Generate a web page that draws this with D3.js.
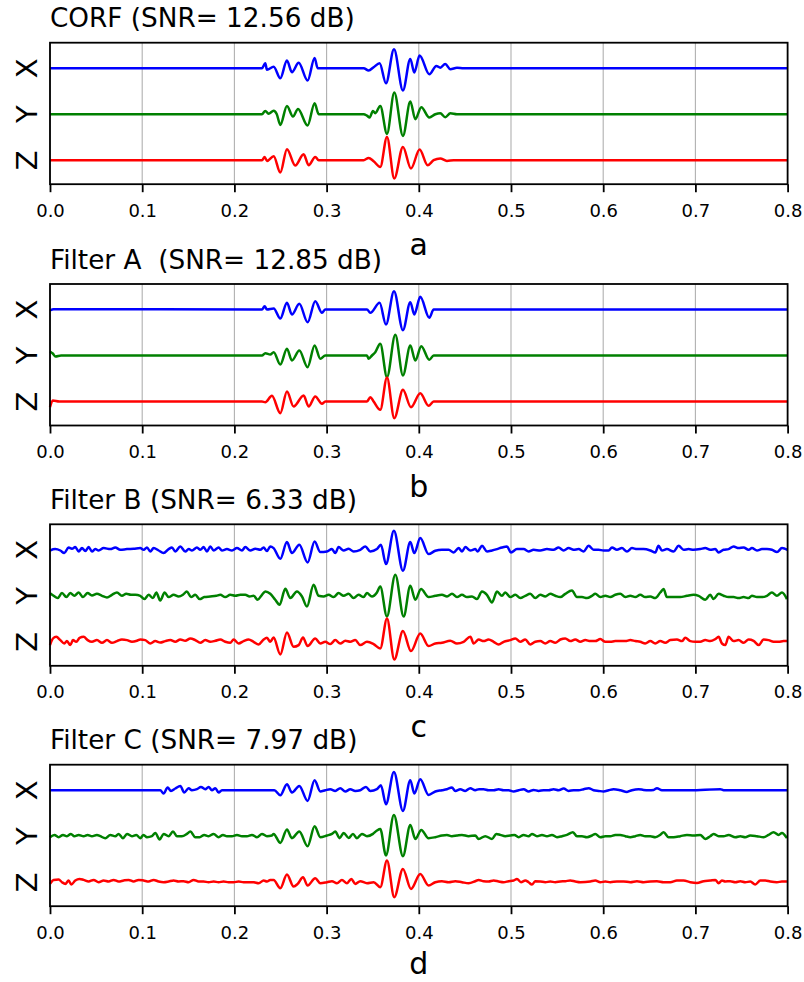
<!DOCTYPE html>
<html lang="en">
<head>
<meta charset="utf-8">
<script src="https://cdn.jsdelivr.net/npm/d3@7"></script>
<style>
  body {margin: 0; background: #fff;}
  text {font-family: "DejaVu Sans", sans-serif;}
</style>
</head>
<body>
<script>
// ---- data (time in ms, amplitude in trace units; channels are 46 units apart) ----
const panelTitles = ["CORF (SNR= 12.56 dB)", "Filter A  (SNR= 12.85 dB)", "Filter B (SNR= 6.33 dB)", "Filter C (SNR= 7.97 dB)"];
const panelLabels = ["a", "b", "c", "d"];
const channels = ["X", "Y", "Z"];
const channelOffsets = [46, 0, -46];
const channelColors = ["#0000ff", "#008000", "#ff0000"];
const xTicks = [0, 100, 200, 300, 400, 500, 600, 700, 800];
const xTickLabels = ["0.0", "0.1", "0.2", "0.3", "0.4", "0.5", "0.6", "0.7", "0.8"];

const corfX = [[0,0],[229.9,0],[233.5,5],[235.3,-1.5],[242.6,1.5],[249.8,-10],[257.0,7.7],[262.4,-4],[269.7,5.5],[279.4,-12.3],[287.0,10.3],[290.3,0],[340.2,0],[345.6,-2.3],[351.0,1],[357.5,5],[364.4,-15],[373.1,19],[382.8,-22.3],[390.8,9.3],[395.1,-4.3],[400.9,12.7],[411.4,-6],[419.0,2.3],[423.3,0.5],[428.7,4.3],[434.2,-1],[441.4,0.5],[448.6,0],[800,0]];
const corfY = [[0,0],[229.9,0],[233.5,3.3],[237.0,0.5],[242.6,3.5],[246.0,0],[249.8,-10.7],[257.0,8.3],[263.5,-2.3],[269.0,5.3],[279.4,-11.3],[287.0,11],[291.4,0],[340.2,0],[343.8,-1.5],[346.7,-3.3],[350.3,3.3],[352.8,1],[358.2,8.3],[365.5,-19.7],[373.4,21.7],[382.8,-21.7],[390.8,12.7],[396.2,-5],[402.7,7],[411.4,-3.3],[417.9,0],[423.3,1],[428.7,-3],[434.2,1],[441.4,0],[800,0]];
const corfZ = [[0,0],[229.9,0],[232.8,3.3],[235.3,-0.7],[242.6,4],[249.8,-12.3],[257.0,11],[266.0,-5.3],[275.1,6],[280.5,-5],[287.7,3.3],[291.4,0],[340.2,0],[345.6,2.3],[351.0,-1],[358.2,-6.7],[365.5,23.3],[373.4,-18.3],[382.8,13.3],[391.5,-8.3],[400.9,10.7],[409.6,-5],[416.1,0],[423.3,1.7],[430.5,-0.7],[437.8,0],[800,0]];

const filtAX = [[0,-1],[4,0.3],[229.9,0],[232.8,3.3],[235.3,0],[242.6,1],[249.8,-9],[257.0,6.7],[262.4,-5],[270.4,5.7],[279.4,-12.7],[287.7,8.3],[295.0,-3.3],[298.6,0],[343.8,0],[347.4,-3.3],[357.5,6.7],[364.4,-15],[373.1,18.3],[382.8,-20.7],[390.8,7.3],[395.1,-5],[401.6,12.7],[411.4,-8.3],[416.1,0],[800,0]];
const filtAY = [[0,4],[3,2],[6,-1],[12,0],[229.9,0],[233.5,2.3],[238.9,1],[242.6,3.3],[249.8,-9],[257.0,6.7],[262.4,-5],[270.4,5],[279.4,-11.7],[287.0,10],[293.2,-3.3],[298.6,0],[343.8,0],[345.6,-3.3],[349.2,0],[352.8,3.3],[358.2,11.7],[365.5,-21.7],[374.5,20.7],[382.8,-20],[390.8,10],[396.2,-5],[402.7,9.3],[411.4,-4.3],[416.1,0],[800,0]];
const filtAZ = [[0,-5.7],[3,1],[10,0],[229.9,0],[233.5,-0.7],[240.7,5.7],[249.8,-11.7],[257.0,10],[264.2,-5],[275.1,6],[280.5,-5],[287.7,5],[295.0,-2.3],[298.6,0],[343.8,0],[347.4,4.3],[351.0,0],[358.2,-8.3],[365.5,24],[373.4,-16.7],[382.8,11.7],[391.5,-5.7],[401.6,8.3],[410.6,-4.3],[416.1,0],[800,0]];

const filtBX = [[0,-0.7],[5.7,0.7],[11.2,-0.7],[15.5,-3.3],[20.2,2.3],[23.8,1],[27.4,2.7],[31.1,-1.7],[34.7,1.7],[38.3,-1.3],[41.9,2.7],[45.5,-1.7],[49.1,0.7],[52.7,-0.7],[58.2,1.7],[65.4,0.7],[70.8,2.3],[76.2,0],[83.5,0.7],[90.7,1],[97.9,1.7],[101.6,0],[105.2,2.3],[108.8,-1.7],[112.4,1.7],[117.8,-0.7],[123.2,-3.3],[128.7,0.7],[132.3,2.3],[135.9,-1.7],[141.3,3.3],[146.7,-1.7],[150.4,0.7],[154.0,-0.7],[159.4,2.3],[163.0,0],[166.6,2.7],[170.2,-1.7],[173.9,3.3],[177.5,-0.7],[182.9,2.3],[186.5,-0.7],[191.9,0.7],[197.4,-0.7],[202.8,1.7],[208.2,-0.7],[211.8,2.7],[217.2,-0.7],[222.7,1],[228.1,0],[231.7,2.3],[235.3,-1.3],[238.9,3.3],[242.5,1.7],[249.8,-9],[257.0,7.7],[262.4,-3.3],[270.4,5],[279.4,-12.7],[287.0,8.3],[293.2,-2.3],[300.4,-1.7],[305.8,0.7],[309.4,-3.3],[313.0,2.7],[318.5,-0.7],[323.9,1],[329.3,-1.7],[336.5,0],[342.0,3.3],[347.4,-1.7],[354.6,0.7],[358.9,5],[364.4,-14.3],[373.0,19],[382.8,-21],[390.8,7.7],[395.1,-3.3],[401.6,11.7],[410.6,-4.3],[417.9,-1],[425.1,0],[432.4,0],[437.8,-2.7],[443.2,1.7],[446.9,-1.7],[450.5,2.7],[455.9,-0.7],[461.3,0.7],[463.8,-1.7],[468.5,4],[474.0,-1.7],[479.4,-0.7],[484.8,0.7],[490.2,2.3],[495.6,3.3],[500.0,-2.7],[506.5,0.7],[513.7,0.7],[519.1,-1.7],[524.5,0],[531.8,-0.7],[539.0,0.7],[546.2,0],[551.6,2.3],[557.1,-0.7],[562.5,1.7],[567.9,0],[573.3,0.7],[578.7,-1.7],[584.2,4],[589.6,0],[595.0,0],[600.4,-0.7],[605.9,-0.7],[609.5,2.3],[614.9,0],[620.3,1.7],[625.8,-1.7],[631.2,1.7],[636.6,0.7],[643.8,0.7],[651.1,-0.7],[656.5,-2.7],[660.0,4],[663.7,-0.7],[669.1,0.7],[676.4,-1.7],[681.8,4],[687.2,0],[692.6,0.7],[698.0,0],[705.3,0.7],[710.7,1.7],[716.1,0],[721.5,0.7],[725.2,-2.7],[730.6,0],[736.0,0.7],[741.4,3.3],[746.9,1.7],[752.3,2.3],[757.7,0],[761.3,1.7],[766.8,-0.7],[772.2,0.7],[777.6,0.7],[783.0,0],[788.5,-2.3],[793.9,1.7],[800,0]];
const filtBY = [[0,2.7],[3.9,0],[8.3,-2.3],[13.0,2.7],[17.7,-1.3],[22.0,2.7],[26.4,0],[31.1,3.3],[35.8,-1.3],[40.8,2.7],[45.5,0.3],[50.9,2],[56.4,0],[61.8,-1.7],[67.2,1],[72.6,3.3],[78.0,0],[82.7,2],[87.8,1],[92.5,1],[97.9,0],[102.3,-3.3],[107.0,1],[111.7,-2.3],[115.3,3.3],[119.6,-4.7],[124.3,3.3],[128.7,-1.3],[134.1,1],[139.5,-0.7],[144.2,1],[148.5,4.3],[152.9,-1.3],[157.6,1],[162.3,-3.3],[167.3,-1.3],[173.8,-0.7],[180.4,0],[184.7,1],[190.1,-1.3],[195.5,1],[201.0,0],[206.4,1],[211.8,1],[216.5,-0.7],[220.8,0],[225.2,-4],[229.9,1],[233.5,4.3],[238.9,2],[244.3,-4],[249.0,-9],[255.2,7],[260.6,-2.3],[267.8,4.3],[273.3,-0.7],[278.7,-10.7],[285.9,11],[291.3,0],[296.8,-0.7],[302.2,1],[307.6,-1.3],[313.0,2.7],[318.5,0],[323.9,2],[329.3,-2.3],[334.7,1],[340.1,-1.3],[343.7,2.7],[349.2,-0.7],[354.6,3.3],[358.2,9.3],[365.4,-20.7],[374.5,21],[383.6,-20.7],[390.8,10],[396.2,-4],[402.4,6.7],[410.7,-1.3],[417.9,0],[425.1,1],[430.6,-0.7],[436.0,2],[441.4,-1.3],[446.8,1],[452.2,-1.3],[457.7,-0.7],[463.1,-3.3],[468.5,4.3],[473.9,1],[479.4,-6.7],[484.8,4.3],[490.2,0],[493.8,3.3],[499.2,-1.3],[504.7,1],[510.1,-2.3],[515.5,0],[520.9,2],[526.4,-2.3],[531.8,1],[537.2,-0.7],[542.6,2],[548.0,0],[553.5,-1.3],[558.9,2],[566.1,5.3],[571.5,-1.3],[577.0,-1.3],[582.4,-2.3],[587.8,0],[591.4,2],[596.9,-1.3],[602.3,0],[607.7,-1.3],[613.1,1],[618.5,2],[624.0,-1.3],[629.4,0],[634.8,-1.3],[640.2,1],[645.6,-1.3],[651.1,-0.7],[656.5,-2.3],[661.9,3.3],[665.5,6.7],[669.1,-1.3],[676.4,-1.3],[683.6,-1.3],[690.8,0],[698.1,1],[703.5,0],[710.7,-4],[716.1,1],[719.7,-3.3],[725.2,2],[730.6,0],[736.0,-1.3],[741.4,-1.3],[746.9,-2.3],[752.3,-1.3],[757.7,-2.3],[761.3,0],[766.7,-1.3],[772.2,-1.3],[777.6,0],[783.0,3.3],[788.4,0],[793.9,3.3],[799.3,-3.3]];
const filtBZ = [[0,-3.3],[3.2,3.3],[6.8,5],[11.2,1.7],[15.5,-1.7],[18.4,0.7],[22.0,-3.3],[24.9,1.7],[28.5,0],[32.1,4],[36.5,5],[40.8,1.7],[45.5,0],[50.9,1.7],[56.4,-1],[61.8,1.7],[67.2,-1],[72.6,0.7],[78.0,2.3],[83.5,1.7],[88.9,0],[94.3,1],[97.9,2.3],[103.4,1.7],[108.8,-1.7],[114.2,0.7],[119.6,-0.7],[125.0,0.7],[130.5,1.7],[135.9,0],[141.3,2.3],[146.7,1],[152.2,3.3],[157.6,1.7],[163.0,-1],[168.4,1.7],[173.8,0],[179.3,1],[184.7,2.3],[190.1,0],[195.5,-1],[199.2,2.3],[204.6,-1.7],[210.0,0.7],[215.4,2.3],[220.8,0],[226.3,-2.7],[231.7,2.3],[235.3,4],[238.9,0],[242.5,4.3],[249.8,-12.7],[257.0,9.3],[264.2,-5],[269.7,-3.3],[274.4,4.3],[279.4,-4.3],[287.7,3.3],[293.2,-1.7],[298.6,0],[304.0,-2.3],[309.4,1.7],[314.8,-1.7],[320.3,1],[325.7,0],[331.1,1.7],[336.5,-3.3],[343.8,0],[351.0,-2.3],[358.2,-6.7],[365.5,23.3],[373.4,-17.7],[382.8,10.7],[391.5,-9.3],[401.6,8.3],[410.6,-4.3],[417.9,-1.7],[425.1,-1],[434.1,1],[441.4,-1.7],[448.6,0],[455.9,5],[459.5,-1.7],[464.9,2.3],[470.3,0.7],[475.7,2.3],[481.2,0],[486.6,-2.7],[492.0,0],[499.2,1.7],[504.7,3.3],[510.1,0],[515.5,2.3],[520.9,-2.7],[526.4,0],[531.8,0.7],[537.2,-1.7],[542.6,0.7],[548.0,-1],[553.5,2.3],[558.9,3.3],[564.3,0.7],[569.7,2.3],[575.2,0],[580.6,1.7],[586.0,0.7],[591.4,0.7],[596.9,2.7],[602.3,0],[607.7,0],[613.1,0.7],[618.5,0.7],[624.0,0.7],[629.4,1.7],[634.8,0.7],[640.2,0],[645.6,-1.7],[651.1,0.7],[656.5,-1.7],[661.9,0.7],[667.3,-1],[672.8,1.7],[680.0,2.3],[685.4,0.7],[689.0,4],[694.5,0.7],[699.9,0],[705.3,0],[710.7,1.7],[716.1,0.7],[721.6,2.7],[725.2,5],[728.8,-1.7],[732.4,-3.3],[736.0,5],[741.4,0.7],[746.9,1.7],[752.3,-1],[757.7,2.3],[763.1,1],[768.6,-3.3],[774.0,2.3],[779.4,1.7],[784.8,0],[790.2,0],[795.7,0.7],[799.3,0.7]];

const filtCX = [[0,0],[119.6,0],[123.2,-3.3],[127.6,2.7],[131.2,-0.7],[135.9,1.7],[141.3,4.3],[145.6,-2.3],[150.3,2],[153.9,0],[159.4,1],[163.7,3.3],[168.4,1],[172.0,3.3],[175.6,0],[179.3,2],[182.9,-2.3],[186.5,0],[243.3,0],[249.8,-5],[257.0,6],[262.4,-2.3],[270.4,4.3],[279.4,-10.7],[287.0,10],[293.2,-1.3],[298.6,0],[304.0,1],[309.4,-0.7],[314.8,2],[320.3,-1.3],[325.7,1],[331.1,-0.7],[336.5,0],[342.7,3.3],[347.4,-0.7],[354.6,1],[358.9,5],[364.4,-14],[373.0,18.3],[382.8,-20.7],[390.8,10],[395.1,-3.3],[401.6,11],[410.6,-4.7],[417.9,-1.3],[425.1,0],[430.5,1],[435.9,2.7],[439.6,-0.7],[445.0,1],[450.4,-0.7],[455.8,2],[461.2,0],[465.3,1],[470.3,1],[475.7,0],[481.2,0],[486.6,1],[492.0,0],[497.4,0],[502.9,-1.3],[508.3,0],[513.7,1],[519.1,-1.3],[524.5,0.3],[530.0,-0.7],[535.4,0],[540.8,0],[546.2,1],[551.7,0],[557.1,1.7],[562.5,-0.7],[567.9,0],[573.3,0],[578.8,1],[584.2,2],[589.6,0],[595.0,-0.7],[600.5,-1.3],[605.9,0],[611.3,1],[618.5,0],[625.8,-1.7],[631.2,0],[638.4,1],[643.8,0.3],[649.3,0],[654.7,0.3],[658.3,2],[663.7,0],[694.4,0],[727.0,1],[730.6,0],[800,0]];
const filtCY = [[0,-1],[4.7,1.3],[9.4,-1],[14.1,1.3],[18.4,0],[22.7,2.3],[26.4,0],[31.1,1.3],[36.5,0],[40.8,1.3],[45.5,0],[50.9,1.3],[54.5,0],[60.0,-2],[65.4,1.3],[70.8,0],[74.4,2.3],[79.1,-2],[83.5,2.3],[88.9,0],[93.6,1.3],[97.9,-2],[101.5,1.3],[105.2,-1],[110.6,0],[114.2,3.3],[118.9,-3.3],[123.2,2.3],[128.7,0],[133.4,4.7],[137.7,0],[143.1,0],[148.5,2.3],[152.2,4.7],[157.6,-1],[162.3,-1],[167.3,1.3],[172.0,0],[177.5,2.3],[182.9,-1],[187.6,1.3],[191.9,0],[197.3,0],[202.8,1.3],[208.2,0],[213.6,0],[219.0,1.3],[224.5,-1],[229.9,2.3],[235.3,0],[240.7,0.7],[242.5,2.3],[249.8,-6.7],[257.0,6.7],[262.4,-2],[270.4,4.7],[279.4,-10],[287.0,10],[293.2,-1],[300.4,0.7],[305.8,2.3],[309.4,4.7],[314.1,-2],[318.5,3.3],[323.9,-1.7],[328.6,2.3],[332.9,-2],[338.3,2.3],[343.8,0],[350.3,2.3],[354.6,5.7],[358.2,7.3],[364.4,-19.3],[373.0,21.3],[382.8,-20],[390.8,11.3],[396.2,-2.7],[402.7,6.3],[410.6,-2],[417.9,-1],[425.1,0.7],[430.5,1.3],[435.9,0],[441.4,0.7],[446.8,1.3],[454.0,0],[461.2,0.7],[464.9,-2.7],[472.1,0],[479.4,-2.7],[484.1,2.3],[488.4,1.3],[493.8,0],[499.2,0.7],[503.6,1.3],[508.3,-1],[513.7,1.3],[519.1,0],[522.7,2.3],[528.2,0],[533.6,1.3],[539.0,0],[544.4,1.3],[549.9,-1],[555.3,0],[560.7,1.3],[567.2,4],[571.5,0],[577.0,0],[582.4,-1],[587.8,0.7],[591.4,2.3],[596.9,-1],[602.3,0],[607.7,0],[613.1,1.3],[618.5,1.3],[624.0,0],[629.4,-1],[634.8,0],[640.2,1.3],[645.6,0],[651.1,0],[656.5,-1],[661.9,1.3],[665.5,4],[670.9,-1],[676.4,-1],[683.6,0],[690.8,1.3],[698.1,0.7],[705.3,1.3],[710.7,-2.7],[716.1,0],[719.7,2.3],[725.2,0],[730.6,0],[736.0,1.3],[743.3,-1],[748.7,0],[754.1,-1],[759.5,0.7],[766.7,0],[774.0,-1],[779.4,1.3],[784.8,4],[790.2,1.3],[793.9,3.3],[799.3,-2]];
const filtCZ = [[0,-1.7],[3.9,2.3],[9.4,2.7],[13.0,0],[16.6,-1.7],[20.2,1.7],[23.1,-2.3],[27.4,1.7],[32.1,3.3],[36.5,2.3],[41.9,0.7],[47.3,2.3],[52.7,0],[58.2,1.7],[63.6,0.7],[69.0,2.3],[74.4,0.7],[79.9,1.7],[85.3,2.3],[90.7,0.7],[96.1,2.3],[101.5,1.7],[107.0,0.7],[112.4,2.3],[117.8,0.7],[123.2,0],[128.7,0.7],[134.1,1.7],[139.5,0.7],[144.9,1],[150.3,0],[155.8,2.3],[161.2,0.7],[166.6,0.7],[172.0,0],[177.5,0.7],[182.9,0],[188.3,0.7],[193.7,0],[199.2,0],[204.6,0.7],[210.0,0],[220.8,0],[226.3,-1],[231.7,1.7],[235.3,0.7],[238.9,2.3],[242.5,2.3],[249.8,-6],[257.0,7.7],[264.2,-4.3],[268.6,-1.7],[274.4,5],[279.4,-3.3],[287.7,4],[293.2,-1],[300.4,0],[305.8,1],[311.2,-1],[316.6,2.3],[322.1,-1],[326.8,3.3],[331.1,-1.7],[336.5,1],[343.8,-1],[351.0,0],[358.2,-5],[365.5,21.7],[373.4,-15],[382.8,13.3],[391.5,-6.7],[401.6,8.3],[410.6,-3.3],[417.9,0],[425.1,1],[432.3,0],[439.6,1],[446.8,0],[454.0,-1],[461.2,1],[464.9,2.3],[470.3,1],[475.7,0.7],[481.2,1.7],[486.6,0.7],[492.0,0],[497.4,1],[502.9,1.7],[506.5,3.3],[510.8,0],[515.5,1.7],[519.1,0],[522.7,-2.3],[526.4,1],[531.8,0.7],[537.2,0],[542.6,0.7],[548.0,0],[553.5,0.7],[558.9,1],[564.3,1.7],[569.7,0.7],[575.2,0],[586.0,0.7],[591.4,1.7],[596.9,0],[602.3,0.7],[607.7,0],[614.9,0.7],[622.2,0.7],[629.4,0],[636.6,1],[643.9,0],[651.1,0.7],[658.3,1],[665.5,0],[672.8,0],[680.0,1.7],[687.2,1.7],[694.5,0],[701.7,-0.7],[708.9,1],[716.1,1.7],[721.6,2.3],[725.2,-1],[728.8,1.7],[732.4,0.7],[737.8,1],[743.3,0],[748.7,1],[754.1,0],[759.5,0.7],[764.9,-2.3],[770.4,1.7],[775.8,1.7],[781.2,0.7],[788.4,0],[793.9,0.7],[799.3,0.7]];

const panelTraces = [
  [corfX, corfY, corfZ],
  [filtAX, filtAY, filtAZ],
  [filtBX, filtBY, filtBZ],
  [filtCX, filtCY, filtCZ]
];

// ---- layout ----
const W = 804, H = 982;
const left = 50, right = 787.6;
const panelTops = [42.7, 284, 524.3, 764.7];
const panelH = 141.5;

const svg = d3.select("body").append("svg")
  .attr("width", W).attr("height", H);

const x = d3.scaleLinear().domain([0, 800]).range([left, right]);

panelTraces.forEach((traces, p) => {
  const top = panelTops[p];
  const y = d3.scaleLinear().domain([-70, 71.5]).range([top + panelH, top]);
  const g = svg.append("g");

  // vertical grid
  g.selectAll(".grid").data(xTicks).join("line")
    .attr("x1", d => x(d)).attr("x2", d => x(d))
    .attr("y1", top).attr("y2", top + panelH)
    .attr("stroke", "#b0b0b0").attr("stroke-width", 1.1);

  // traces
  const line = d3.line()
    .x(d => x(d[0]))
    .curve(d3.curveMonotoneX);
  traces.forEach((tr, c) => {
    line.y(d => y(d[1] + channelOffsets[c]));
    g.append("path")
      .attr("d", line(tr))
      .attr("fill", "none")
      .attr("stroke", channelColors[c])
      .attr("stroke-width", 2.5)
      .attr("stroke-linejoin", "round");
  });

  // frame
  g.append("rect")
    .attr("x", left).attr("y", top)
    .attr("width", right - left).attr("height", panelH)
    .attr("fill", "none").attr("stroke", "#000").attr("stroke-width", 1.8);

  // x axis
  const ax = g.append("g")
    .attr("transform", `translate(0,${top + panelH})`)
    .call(d3.axisBottom(x).tickValues(xTicks)
      .tickFormat((d, i) => xTickLabels[i]).tickSize(8).tickSizeOuter(0));
  ax.select(".domain").remove();
  ax.selectAll(".tick line").attr("stroke", "#000").attr("stroke-width", 1.8);
  ax.selectAll(".tick text")
    .attr("y", 32.5).attr("dy", null)
    .attr("fill", "#000")
    .style("font-size", "18px")
    .style("font-family", "DejaVu Sans");

  // channel labels (rotated)
  channels.forEach((ch, c) => {
    const yy = y(channelOffsets[c]);
    g.append("text")
      .attr("transform", `translate(36.5,${yy}) rotate(-90)`)
      .attr("text-anchor", "middle")
      .style("font-size", "29px")
      .text(ch);
  });

  // title
  g.append("text")
    .attr("x", left).attr("y", top - 15.5)
    .style("font-size", "26.3px")
    .style("white-space", "pre")
    .attr("xml:space", "preserve")
    .text(panelTitles[p]);

  // panel label
  g.append("text")
    .attr("x", (left + right) / 2).attr("y", Math.min(top + panelH + 71, 974))
    .attr("text-anchor", "middle")
    .style("font-size", "30px")
    .text(panelLabels[p]);
});
</script>
</body>
</html>
